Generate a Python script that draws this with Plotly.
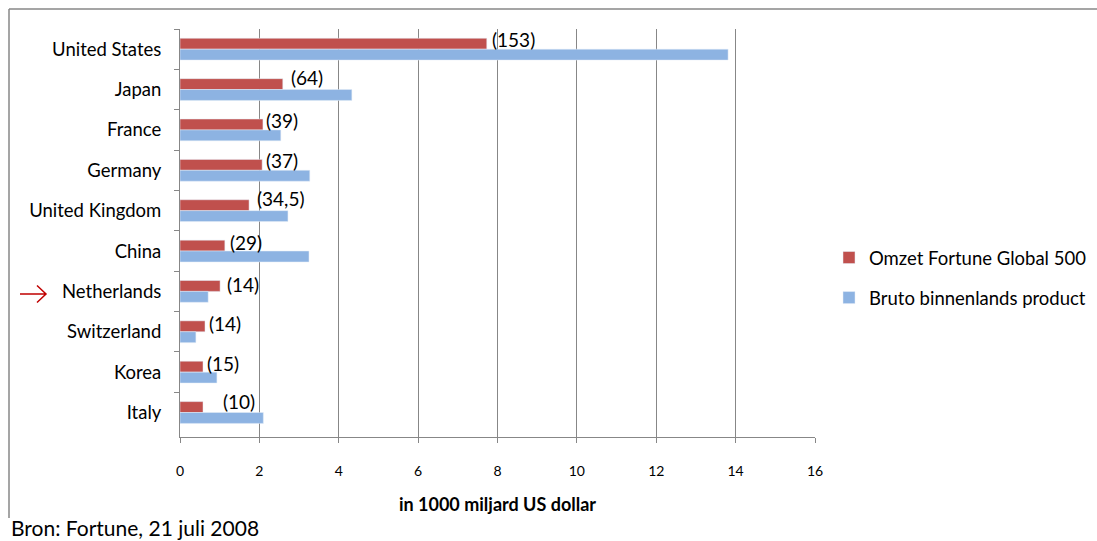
import plotly.graph_objects as go

# Landen (van boven naar beneden)
countries = ["United States", "Japan", "France", "Germany", "United Kingdom",
             "China", "Netherlands", "Switzerland", "Korea", "Italy"]

# Omzet Fortune Global 500-bedrijven per land, in 1000 miljard US dollar
omzet = [7.73, 2.59, 2.09, 2.07, 1.74, 1.13, 1.01, 0.63, 0.58, 0.58]

# Bruto binnenlands product, in 1000 miljard US dollar
bbp = [13.81, 4.33, 2.54, 3.27, 2.72, 3.25, 0.71, 0.40, 0.93, 2.10]

# Aantal bedrijven in de Fortune Global 500
aantal = ["(153)", "(64)", "(39)", "(37)", "(34,5)", "(29)", "(14)", "(14)", "(15)", "(10)"]

x_ticks = [0, 2, 4, 6, 8, 10, 12, 14, 16]

FONT = "Lato"
RED = "#C0504D"
BLUE = "#8DB3E2"
GRID = "#878787"

W, H = 1097, 541
L, R, T, B = 180, 815, 29, 437


def px(x):
    return (x - L) / (R - L)


def py(y):
    return (B - y) / (B - T)


fig = go.Figure()
fig.add_trace(go.Bar(
    y=countries, x=omzet, orientation="h", name="Omzet Fortune Global 500",
    marker=dict(color=RED), legendgroup="a",
))
fig.add_trace(go.Bar(
    y=countries, x=bbp, orientation="h", name="Bruto binnenlands product",
    marker=dict(color=BLUE), legendgroup="b",
))

# labels with company counts, next to the red bars
label_xshift = [3, 6, 1, 2, 6, 3, 5, 2, 2, 18]
label_yshift = [10, 12, 9, 10, 12, 9, 7, 8, 9, 11]
annotations = []
for c, v, t, dx, dy in zip(countries, omzet, aantal, label_xshift, label_yshift):
    annotations.append(dict(
        x=v, y=c, xref="x", yref="y", text=t, showarrow=False,
        xanchor="left", yanchor="middle", xshift=dx, yshift=dy,
        font=dict(family=FONT, size=19, color="#000000"),
    ))

annotations.append(dict(
    x=0, y=py(527), xref="paper", yref="paper",
    xshift=(9 - L), text="Bron: Fortune, 21 juli 2008", showarrow=False,
    xanchor="left", yanchor="middle",
    font=dict(family=FONT, size=21, color="#000000"),
))

shapes = [
    # frame lines (top and left)
    dict(type="line", xref="paper", yref="paper",
         x0=px(9), x1=px(1097), y0=py(9), y1=py(9),
         line=dict(color=GRID, width=1.5)),
    dict(type="line", xref="paper", yref="paper",
         x0=px(9), x1=px(9), y0=py(9), y1=py(518),
         line=dict(color=GRID, width=1.5)),
    # red arrow pointing at Netherlands
    dict(type="path", xref="paper", yref="paper",
         path=(f"M {px(20)},{py(294)} L {px(46)},{py(294)} "
               f"M {px(37)},{py(285.5)} L {px(46)},{py(294)} L {px(37)},{py(302.5)}"),
         line=dict(color="#C00000", width=1.5)),
]

fig.update_layout(
    width=W, height=H,
    margin=dict(l=L, r=W - R, t=T, b=H - B, autoexpand=False),
    paper_bgcolor="white", plot_bgcolor="white",
    barmode="group", bargap=0.46, bargroupgap=0,
    font=dict(family=FONT, color="#000000"),
    showlegend=True,
    legend=dict(
        x=px(829), y=py(278), xanchor="left", yanchor="middle",
        xref="paper", yref="paper",
        font=dict(family=FONT, size=18.5, color="#000000"),
        tracegroupgap=13, bgcolor="rgba(0,0,0,0)", itemclick=False,
    ),
    xaxis=dict(
        range=[0, 16], tickvals=x_ticks, ticktext=[str(v) for v in x_ticks],
        showgrid=True, gridcolor=GRID, gridwidth=1,
        showline=True, linecolor=GRID, linewidth=1,
        ticks="outside", ticklen=5, tickcolor=GRID,
        ticklabelstandoff=16,
        tickfont=dict(family=FONT, size=14, color="#000000"),
        title=dict(text="<b>in 1000 miljard US dollar</b>", standoff=20,
                   font=dict(family=FONT, size=18, color="#000000")),
        zeroline=False, fixedrange=True,
    ),
    yaxis=dict(
        autorange="reversed", type="category",
        showline=True, linecolor=GRID, linewidth=1,
        ticks="outside", ticklen=5, tickcolor=GRID, tickson="boundaries",
        ticklabelstandoff=14,
        tickfont=dict(family=FONT, size=18.5, color="#000000"),
        showgrid=False, fixedrange=True,
    ),
    annotations=annotations,
    shapes=shapes,
)

fig.write_html("out.html")
